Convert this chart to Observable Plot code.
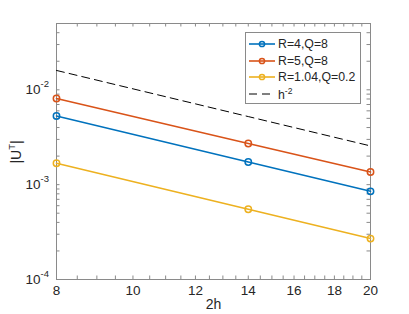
<!DOCTYPE html>
<html><head><meta charset="utf-8">
<script src="https://cdn.jsdelivr.net/npm/d3@7"></script>
<script src="https://cdn.jsdelivr.net/npm/@observablehq/plot@0.6"></script>
<style>
body{margin:0;background:#fff;font-family:"Liberation Sans",Arial,sans-serif;}
#wrap{position:relative;width:409px;height:314px;overflow:hidden}
#legend{position:absolute;left:245px;top:32px;width:114px;height:70px;border:1px solid #8a8a8a;background:#fff;font-size:12.3px;color:#262626}
.row{position:absolute;left:2px;height:16px;display:flex;align-items:center;white-space:nowrap}
.row svg{margin-right:2px}
</style>
</head><body><div id="wrap"></div>
<script>
const xValues = [8, 14, 20];
const seriesNames = ["R=4,Q=8", "R=5,Q=8", "R=1.04,Q=0.2"];
const seriesBlue = [5.3e-3, 1.73e-3, 8.5e-4];
const seriesRed = [8.1e-3, 2.72e-3, 1.36e-3];
const seriesYellow = [1.68e-3, 5.5e-4, 2.7e-4];
const refName = "h";
const refExp = "-2";
const refValues = [1.6e-2, 5.22e-3, 2.56e-3];
const colors = ["#0072BD", "#D95319", "#EDB120"];
const xTicks = [8, 10, 12, 14, 16, 18, 20];
const xTickLabels = ["8", "10", "12", "14", "16", "18", "20"];
const xMinor = [8.5,9,9.5,10.5,11,11.5,12.5,13,13.5,14.5,15,15.5,16.5,17,17.5,18.5,19,19.5];
const yTicks = [1e-4, 1e-3, 1e-2];
const yTickBase = "10";
const yTickExps = ["-4", "-3", "-2"];
const yMinor = [2e-4,3e-4,4e-4,5e-4,6e-4,7e-4,8e-4,9e-4,2e-3,3e-3,4e-3,5e-3,6e-3,7e-3,8e-3,9e-3,2e-2,3e-2,4e-2];
const xLabel = "2h";
const yLabelBase = "|U";
const yLabelSup = "T";
const yLabelEnd = "|";

const allSeries = [seriesBlue, seriesRed, seriesYellow];
const rows = [];
allSeries.forEach((s, i) => s.forEach((v, j) => rows.push({x: xValues[j], y: v, series: seriesNames[i]})));
const refRows = refValues.map((v, j) => ({x: xValues[j], y: v}));

const W = 409, H = 314, mL = 56, mR = 39, mT = 23, mB = 35;
const pw = W - mL - mR, ph = H - mT - mB;
const axisColor = "#8a8a8a", textColor = "#262626";
const tk = 3.5;

const plot = Plot.plot({
  width: W, height: H,
  marginLeft: mL, marginRight: mR, marginTop: mT, marginBottom: mB,
  style: {fontFamily: '"Liberation Sans", Arial, sans-serif', fontSize: "13.5px", color: textColor, background: "white"},
  x: {type: "log", domain: [8, 20], axis: null},
  y: {type: "log", domain: [1e-4, 5e-2], axis: null},
  color: {domain: seriesNames, range: colors},
  marks: [
    Plot.tickY(yTicks.concat(yMinor), {y: d => d, stroke: axisColor, insetRight: pw - tk}),
    Plot.tickY(yTicks.concat(yMinor), {y: d => d, stroke: axisColor, insetLeft: pw - tk}),
    Plot.tickX(xTicks.concat(xMinor), {x: d => d, stroke: axisColor, insetTop: ph - tk}),
    Plot.tickX(xTicks.concat(xMinor), {x: d => d, stroke: axisColor, insetBottom: ph - tk}),
    Plot.frame({stroke: axisColor}),
    Plot.text(xTicks, {x: d => d, text: (d, i) => xTickLabels[i], frameAnchor: "bottom", dy: 15, fill: textColor, fontSize: 13.5}),
    Plot.text(yTicks, {y: d => d, text: () => yTickBase, frameAnchor: "left", textAnchor: "end", dx: -16, fill: textColor, fontSize: 13.5}),
    Plot.text(yTicks, {y: d => d, text: (d, i) => yTickExps[i], frameAnchor: "left", textAnchor: "start", dx: -16, dy: -6, fontSize: 9.5, fill: textColor}),
    Plot.text([xLabel], {text: d => d, frameAnchor: "bottom", dy: 29, fill: textColor, fontSize: 14}),
    Plot.line(refRows, {x: "x", y: "y", stroke: "black", strokeWidth: 1, strokeDasharray: "8,5"}),
    Plot.line(rows, {x: "x", y: "y", stroke: "series", strokeWidth: 1.6}),
    Plot.dot(rows, {x: "x", y: "y", stroke: "series", r: 3.2, strokeWidth: 1.5, fill: "none"})
  ]
});

const wrap = document.getElementById("wrap");
wrap.appendChild(plot);

// y-axis label with superscript
const svg = d3.select(plot);
const yl = svg.append("text")
  .attr("transform", `translate(21,152) rotate(-90)`)
  .attr("fill", textColor).attr("font-size", 14).attr("text-anchor", "middle");
yl.append("tspan").text(yLabelBase);
yl.append("tspan").attr("font-size", 9.5).attr("dy", -6).text(yLabelSup);
yl.append("tspan").attr("dy", 6).text(yLabelEnd);

// legend
const legend = document.createElement("div");
legend.id = "legend";
const entries = seriesNames.map((n, i) => ({name: n, color: colors[i], dash: false}));
entries.push({name: refName, color: "black", dash: true});
entries.forEach((e, i) => {
  const row = document.createElement("div");
  row.className = "row";
  row.style.top = (3 + i * 16.7) + "px";
  const s = d3.create("svg").attr("width", 28).attr("height", 16);
  s.append("line").attr("x1", 1).attr("x2", 27).attr("y1", 8).attr("y2", 8)
    .attr("stroke", e.color).attr("stroke-width", e.dash ? 1 : 1.6).attr("stroke-dasharray", e.dash ? "8,5" : null);
  if (!e.dash) s.append("circle").attr("cx", 14).attr("cy", 8).attr("r", 2.6).attr("fill", "none").attr("stroke", e.color).attr("stroke-width", 1.5);
  row.appendChild(s.node());
  const t = document.createElement("span");
  t.textContent = e.name;
  if (e.dash) {
    const sup = document.createElement("sup");
    sup.textContent = refExp;
    sup.style.fontSize = "8.5px";
    t.appendChild(sup);
  }
  row.appendChild(t);
  legend.appendChild(row);
});
wrap.appendChild(legend);
</script>
</body></html>
